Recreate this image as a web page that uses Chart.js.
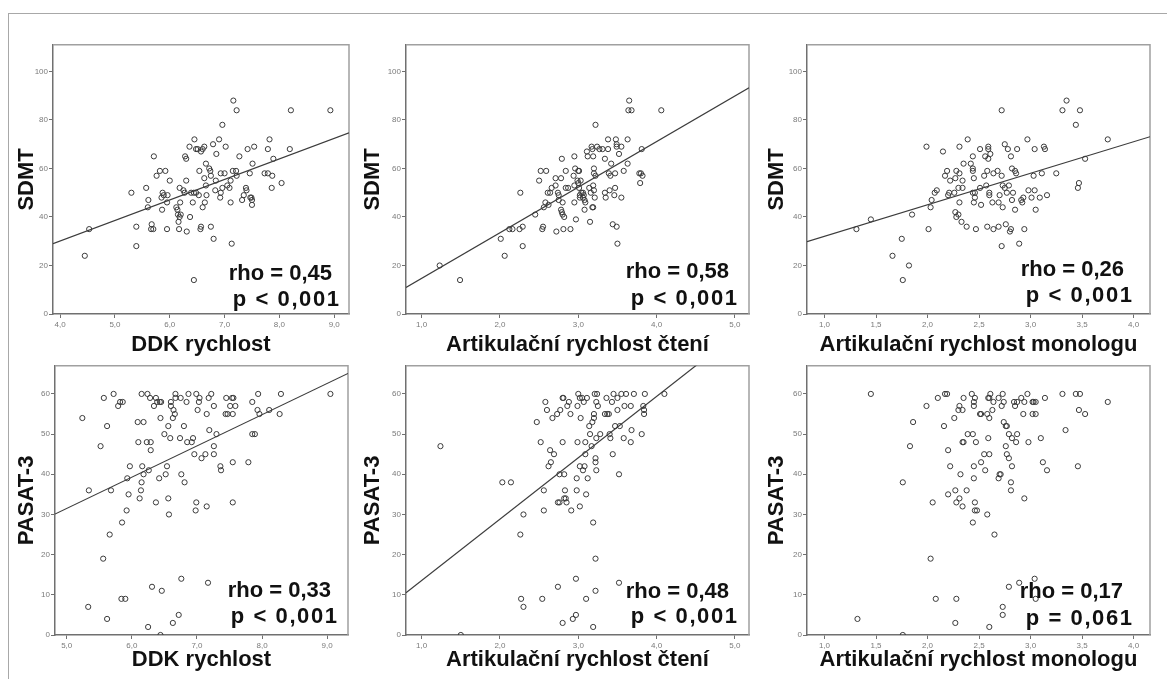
<!DOCTYPE html>
<html>
<head>
<meta charset="utf-8">
<script src="https://cdn.jsdelivr.net/npm/chart.js@4.4.0/dist/chart.umd.min.js"></script>
<style>
html, body { margin: 0; padding: 0; background: #fff; width: 1167px; height: 679px; overflow: hidden; position: relative; }
.frame { position: absolute; left: 8px; top: 13px; right: 0; bottom: 0; border-top: 1px solid #a8a8a8; border-left: 1px solid #a8a8a8; }
canvas { position: absolute; }
</style>
</head>
<body>
<div class="frame"></div>
<canvas id="c1"></canvas>
<canvas id="c2"></canvas>
<canvas id="c3"></canvas>
<canvas id="c4"></canvas>
<canvas id="c5"></canvas>
<canvas id="c6"></canvas>
<script>
// values: [x, y] per subject
const ddkSdmt = [[4.45,24],[4.53,35],[5.30,50],[5.57,52],[5.39,36],[5.39,28],[5.61,47],[5.60,44],[5.71,65],[5.76,57],[5.82,59],[5.92,59],[6.00,55],[5.67,37],[5.66,35],[5.70,35],[5.87,50],[5.89,49],[5.85,48],[5.96,49],[5.95,46],[5.86,43],[5.95,35],[6.12,44],[6.14,43],[6.15,41],[6.16,38],[6.18,40],[6.20,41],[6.17,35],[6.18,52],[6.19,46],[6.25,51],[6.27,50],[6.28,65],[6.30,64],[6.30,55],[6.31,34],[6.37,40],[6.36,69],[6.45,72],[6.48,68],[6.51,68],[6.42,46],[6.44,50],[6.44,14],[6.39,50],[6.48,50],[6.53,49],[6.54,59],[6.56,35],[6.57,36],[6.57,67],[6.60,68],[6.63,69],[6.60,44],[6.63,56],[6.64,46],[6.66,62],[6.66,53],[6.67,49],[6.72,60],[6.74,59],[6.75,57],[6.75,36],[6.79,70],[6.80,31],[6.83,51],[6.84,55],[6.85,66],[6.90,72],[6.96,78],[6.93,58],[6.92,48],[6.93,50],[6.96,52],[7.02,69],[7.00,58],[7.05,53],[7.09,52],[7.11,55],[7.11,46],[7.13,29],[7.15,59],[7.16,88],[7.21,59],[7.22,84],[7.22,57],[7.27,65],[7.32,47],[7.35,49],[7.39,52],[7.40,51],[7.42,68],[7.46,58],[7.47,48],[7.49,48],[7.50,47],[7.50,45],[7.51,62],[7.54,69],[7.73,58],[7.79,58],[7.79,68],[7.82,72],[7.86,52],[7.87,57],[7.89,64],[8.04,54],[8.19,68],[8.21,84],[8.93,84]];
const readSdmt = [[1.23,20],[1.49,14],[2.01,31],[2.06,24],[2.26,50],[2.12,35],[2.16,35],[2.25,35],[2.29,36],[2.29,28],[2.45,41],[2.50,55],[2.52,59],[2.59,59],[2.54,35],[2.55,36],[2.56,44],[2.58,46],[2.62,45],[2.61,50],[2.64,50],[2.66,52],[2.71,56],[2.71,53],[2.72,34],[2.74,50],[2.75,49],[2.75,47],[2.78,56],[2.79,64],[2.78,43],[2.79,42],[2.80,41],[2.80,46],[2.81,35],[2.82,40],[2.84,59],[2.84,52],[2.87,52],[2.90,35],[2.94,57],[2.95,65],[2.95,46],[2.95,53],[2.96,60],[2.97,39],[2.99,55],[3.00,59],[3.01,59],[3.00,54],[3.01,52],[3.02,49],[3.02,48],[3.03,55],[3.04,50],[3.06,48],[3.07,49],[3.06,50],[3.08,47],[3.08,43],[3.09,46],[3.11,67],[3.12,65],[3.14,52],[3.15,38],[3.17,69],[3.18,68],[3.16,50],[3.18,44],[3.19,65],[3.19,53],[3.20,51],[3.20,60],[3.19,44],[3.21,48],[3.20,58],[3.22,78],[3.22,57],[3.24,69],[3.27,68],[3.31,68],[3.34,50],[3.34,64],[3.35,48],[3.38,72],[3.38,68],[3.39,58],[3.40,51],[3.42,62],[3.41,57],[3.44,37],[3.46,49],[3.47,58],[3.47,52],[3.48,72],[3.49,70],[3.49,69],[3.49,36],[3.50,29],[3.52,66],[3.55,69],[3.55,48],[3.58,59],[3.63,72],[3.63,62],[3.64,84],[3.68,84],[3.65,88],[3.78,58],[3.80,58],[3.79,54],[3.82,57],[3.81,68],[4.06,84]];
const monoSdmt = [[1.31,35],[1.45,39],[1.66,24],[1.75,31],[1.76,14],[1.82,20],[1.85,41],[1.99,69],[2.01,35],[2.03,44],[2.04,47],[2.07,50],[2.09,51],[2.15,67],[2.17,57],[2.19,59],[2.20,49],[2.21,50],[2.22,55],[2.26,50],[2.27,56],[2.28,59],[2.27,42],[2.28,40],[2.30,41],[2.30,52],[2.31,58],[2.31,69],[2.31,46],[2.33,38],[2.34,55],[2.34,52],[2.35,62],[2.38,36],[2.39,72],[2.42,62],[2.44,65],[2.44,60],[2.44,59],[2.44,50],[2.45,46],[2.45,56],[2.46,50],[2.46,48],[2.47,35],[2.51,52],[2.51,68],[2.52,45],[2.55,57],[2.56,65],[2.57,53],[2.58,59],[2.58,36],[2.59,68],[2.59,69],[2.59,64],[2.60,50],[2.60,49],[2.61,66],[2.63,46],[2.64,58],[2.64,35],[2.68,59],[2.69,46],[2.69,36],[2.70,49],[2.72,84],[2.72,57],[2.72,28],[2.73,53],[2.73,44],[2.75,70],[2.75,52],[2.76,37],[2.77,50],[2.78,68],[2.79,53],[2.80,34],[2.81,65],[2.81,35],[2.82,60],[2.82,47],[2.83,50],[2.85,59],[2.85,43],[2.86,58],[2.87,68],[2.89,29],[2.91,47],[2.92,46],[2.93,48],[2.94,35],[2.97,72],[2.98,51],[3.01,48],[3.03,57],[3.04,68],[3.04,51],[3.05,43],[3.09,48],[3.11,58],[3.13,69],[3.14,68],[3.16,49],[3.25,58],[3.31,84],[3.35,88],[3.44,78],[3.46,52],[3.47,54],[3.48,84],[3.53,64],[3.75,72]];
const ddkPasat = [[5.24,54],[5.34,36],[5.33,7],[5.52,47],[5.56,19],[5.57,59],[5.62,52],[5.62,4],[5.66,25],[5.68,36],[5.72,60],[5.79,57],[5.82,58],[5.86,58],[5.85,28],[5.84,9],[5.90,9],[5.92,31],[5.93,39],[5.95,35],[5.97,42],[6.09,53],[6.10,48],[6.12,34],[6.14,36],[6.15,38],[6.16,42],[6.18,53],[6.15,60],[6.18,40],[6.24,60],[6.25,2],[6.23,48],[6.26,41],[6.28,59],[6.29,48],[6.29,46],[6.31,12],[6.34,57],[6.37,59],[6.37,33],[6.39,58],[6.42,39],[6.43,58],[6.45,58],[6.44,54],[6.44,0],[6.46,11],[6.50,50],[6.52,40],[6.54,42],[6.56,34],[6.56,52],[6.57,30],[6.59,49],[6.60,58],[6.60,57],[6.63,54],[6.63,3],[6.64,56],[6.66,55],[6.67,60],[6.67,59],[6.72,5],[6.75,59],[6.74,49],[6.76,14],[6.76,40],[6.80,52],[6.81,38],[6.84,58],[6.85,48],[6.87,60],[6.92,48],[6.94,49],[6.96,45],[6.98,31],[6.99,60],[6.99,33],[7.01,56],[7.03,58],[7.04,59],[7.07,44],[7.13,45],[7.15,32],[7.15,55],[7.17,13],[7.18,59],[7.19,51],[7.22,60],[7.26,47],[7.26,45],[7.26,57],[7.30,50],[7.36,42],[7.37,41],[7.45,59],[7.44,55],[7.47,55],[7.51,57],[7.54,59],[7.55,55],[7.56,59],[7.55,43],[7.55,33],[7.59,57],[7.79,43],[7.85,58],[7.85,50],[7.89,50],[7.94,60],[7.93,56],[7.96,55],[8.11,56],[8.27,55],[8.29,60],[9.05,60]];
const readPasat = [[1.24,47],[1.50,0],[2.03,38],[2.14,38],[2.26,25],[2.30,30],[2.27,9],[2.30,7],[2.47,53],[2.52,48],[2.54,9],[2.56,36],[2.56,31],[2.58,58],[2.60,56],[2.62,42],[2.64,46],[2.65,43],[2.67,54],[2.69,45],[2.73,55],[2.74,12],[2.74,33],[2.76,33],[2.77,56],[2.76,40],[2.80,59],[2.81,59],[2.80,48],[2.82,40],[2.80,3],[2.82,34],[2.84,34],[2.83,36],[2.85,33],[2.88,58],[2.86,57],[2.90,55],[2.91,31],[2.93,4],[2.97,5],[2.97,14],[2.98,39],[2.98,36],[2.99,57],[2.99,48],[3.00,60],[3.02,59],[3.03,54],[3.02,42],[3.02,32],[3.05,59],[3.06,41],[3.07,58],[3.08,42],[3.09,45],[3.09,48],[3.11,59],[3.10,35],[3.10,9],[3.12,39],[3.14,52],[3.15,50],[3.17,47],[3.18,53],[3.19,28],[3.19,2],[3.20,55],[3.20,54],[3.21,60],[3.23,58],[3.22,44],[3.22,43],[3.23,41],[3.22,11],[3.22,19],[3.23,49],[3.24,60],[3.25,57],[3.28,50],[3.34,55],[3.36,59],[3.37,55],[3.39,55],[3.40,50],[3.41,49],[3.43,58],[3.44,45],[3.45,60],[3.47,52],[3.50,56],[3.50,59],[3.52,40],[3.53,52],[3.52,13],[3.55,60],[3.58,49],[3.59,57],[3.61,60],[3.67,48],[3.68,51],[3.67,57],[3.71,60],[3.81,50],[3.83,57],[3.84,56],[3.84,55],[3.85,60],[4.10,60]];
const monoPasat = [[1.32,4],[1.45,60],[1.76,38],[1.76,0],[1.83,47],[1.86,53],[1.99,57],[2.03,19],[2.05,33],[2.08,9],[2.10,59],[2.16,52],[2.17,60],[2.19,60],[2.20,46],[2.20,35],[2.22,42],[2.26,54],[2.27,36],[2.28,33],[2.28,9],[2.27,3],[2.30,56],[2.31,57],[2.32,40],[2.31,34],[2.34,56],[2.34,32],[2.34,48],[2.35,48],[2.35,59],[2.38,36],[2.39,50],[2.43,60],[2.44,50],[2.44,28],[2.45,42],[2.45,39],[2.45,57],[2.45,58],[2.46,59],[2.46,33],[2.46,31],[2.47,48],[2.48,31],[2.51,55],[2.52,55],[2.52,43],[2.55,45],[2.56,41],[2.58,55],[2.59,49],[2.58,30],[2.59,59],[2.60,54],[2.60,45],[2.60,2],[2.60,59],[2.61,60],[2.63,56],[2.64,58],[2.65,25],[2.69,59],[2.69,39],[2.70,40],[2.71,40],[2.72,57],[2.73,60],[2.73,7],[2.73,5],[2.74,53],[2.74,58],[2.76,52],[2.76,47],[2.77,52],[2.77,45],[2.79,44],[2.79,12],[2.79,50],[2.81,38],[2.81,36],[2.82,49],[2.82,42],[2.84,58],[2.85,57],[2.86,48],[2.87,58],[2.87,50],[2.89,13],[2.91,59],[2.93,55],[2.94,58],[2.94,34],[2.97,60],[2.98,48],[3.02,58],[3.02,55],[3.03,58],[3.04,14],[3.05,55],[3.05,9],[3.05,58],[3.10,49],[3.12,43],[3.14,59],[3.16,41],[3.31,60],[3.34,51],[3.44,60],[3.47,56],[3.46,42],[3.48,60],[3.53,55],[3.75,58]];

// regression lines, endpoints at the axis limits (none drawn for the last panel)
const fitDdkSdmt = [[3.87,29.0],[9.27,74.7]];
const fitReadSdmt = [[0.80,10.9],[5.18,93.3]];
const fitMonoSdmt = [[0.83,29.8],[4.16,73.1]];
const fitDdkPasat = [[4.82,30.1],[9.32,65.1]];
const fitReadPasat = [[0.80,10.5],[5.18,77.4]];

// axis ticks
const ticksDdk = [4, 5, 6, 7, 8, 9];
const ticksDdk2 = [5, 6, 7, 8, 9];
const ticksRead = [1, 2, 3, 4, 5];
const ticksMono = [1, 1.5, 2, 2.5, 3, 3.5, 4];
const ticksSdmt = [0, 20, 40, 60, 80, 100];
const ticksPasat = [0, 10, 20, 30, 40, 50, 60];

const xTitles = ['DDK rychlost', 'Artikulační rychlost čtení', 'Artikulační rychlost monologu'];
const yTitles = ['SDMT', 'PASAT-3'];
const rhoLabels = ['rho = 0,45', 'rho = 0,58', 'rho = 0,26', 'rho = 0,33', 'rho = 0,48', 'rho = 0,17'];
const pLabels = ['p < 0,001', 'p < 0,001', 'p < 0,001', 'p < 0,001', 'p < 0,001', 'p = 0,061'];

const FONT = '"Liberation Sans", Arial, Helvetica, sans-serif';
const Y_W = 48, PAD_T = 4, PAD_R = 4;

// box = plot area [left, top, right, bottom] on the page; note = [rhoRight, rhoBase, pRight, pBase] offsets
const panels = [
    { id: 'c1', pts: ddkSdmt, fit: fitDdkSdmt, x: [3.87, 9.27], xt: ticksDdk, y: [0, 111], yt: ticksSdmt, xTitle: xTitles[0], yTitle: yTitles[0], box: [53, 43, 350, 314], xh: 44, yPad: 8.8, note: [17, 34, 10, 8] },
    { id: 'c2', pts: readSdmt, fit: fitReadSdmt, x: [0.80, 5.18], xt: ticksRead, y: [0, 111], yt: ticksSdmt, xTitle: xTitles[1], yTitle: yTitles[0], box: [406, 43, 750, 314], xh: 44, yPad: 1.8, note: [20, 36, 12, 9] },
    { id: 'c3', pts: monoSdmt, fit: fitMonoSdmt, x: [0.83, 4.16], xt: ticksMono, y: [0, 111], yt: ticksSdmt, xTitle: xTitles[2], yTitle: yTitles[0], box: [807, 43, 1151, 314], xh: 44, yPad: 4.8, note: [26, 38, 18, 12] },
    { id: 'c4', pts: ddkPasat, fit: fitDdkPasat, x: [4.82, 9.32], xt: ticksDdk2, y: [0, 67], yt: ticksPasat, xTitle: xTitles[0], yTitle: yTitles[1], box: [55, 364, 349, 635], xh: 38, yPad: 6.8, note: [17, 38, 11, 12] },
    { id: 'c5', pts: readPasat, fit: fitReadPasat, x: [0.80, 5.18], xt: ticksRead, y: [0, 67], yt: ticksPasat, xTitle: xTitles[1], yTitle: yTitles[1], box: [406, 364, 750, 635], xh: 38, yPad: 1.8, note: [20, 37, 12, 12] },
    { id: 'c6', pts: monoPasat, fit: null, x: [0.83, 4.16], xt: ticksMono, y: [0, 67], yt: ticksPasat, xTitle: xTitles[2], yTitle: yTitles[1], box: [807, 364, 1151, 635], xh: 38, yPad: 4.8, note: [27, 37, 18, 10] }
];

const boxPlugin = {
    id: 'plotBox',
    beforeDatasetsDraw(chart) {
        const { ctx, chartArea: a } = chart;
        ctx.save();
        ctx.strokeStyle = '#a0a0a0';
        ctx.lineWidth = 1.5;
        ctx.beginPath();
        ctx.moveTo(a.left, a.top);
        ctx.lineTo(a.right, a.top);
        ctx.lineTo(a.right, a.bottom);
        ctx.stroke();
        ctx.restore();
    },
    afterDraw(chart, args, opts) {
        const { ctx, chartArea: a } = chart;
        ctx.save();
        ctx.fillStyle = '#111';
        ctx.font = 'bold 22px ' + FONT;
        ctx.textAlign = 'right';
        ctx.textBaseline = 'alphabetic';
        ctx.fillText(opts.rho, a.right - opts.note[0], a.bottom - opts.note[1]);
        // the p line is set a little looser in the original slide
        ctx.letterSpacing = '1.6px';
        ctx.fillText(opts.p, a.right - opts.note[2] + 1.6, a.bottom - opts.note[3]);
        ctx.restore();
    }
};

const commaFmt = v => Number(v).toFixed(1).replace('.', ',');

panels.forEach((p, i) => {
    const [L, T, R, B] = p.box;
    const cv = document.getElementById(p.id);
    const w = Y_W + (R - L) + PAD_R;
    const h = PAD_T + (B - T) + p.xh;
    cv.width = w;
    cv.height = h;
    cv.style.left = (L - Y_W) + 'px';
    cv.style.top = (T - PAD_T) + 'px';
    cv.style.width = w + 'px';
    cv.style.height = h + 'px';

    const datasets = [{
        data: p.pts.map(d => ({ x: d[0], y: d[1] })),
        pointRadius: 2.6,
        pointBorderWidth: 1,
        pointBorderColor: '#3a3a3a',
        pointBackgroundColor: 'rgba(0,0,0,0)',
        showLine: false
    }];
    if (p.fit) {
        datasets.push({
            data: p.fit.map(d => ({ x: d[0], y: d[1] })),
            showLine: true,
            borderColor: '#3c3c3c',
            borderWidth: 1.2,
            pointRadius: 0
        });
    }

    new Chart(cv, {
        type: 'scatter',
        data: { datasets },
        plugins: [boxPlugin],
        options: {
            responsive: false,
            animation: false,
            events: [],
            layout: { padding: { top: PAD_T, right: PAD_R, left: 0, bottom: 0 } },
            plugins: {
                legend: { display: false },
                tooltip: { enabled: false },
                plotBox: { rho: rhoLabels[i], p: pLabels[i], note: p.note }
            },
            scales: {
                x: {
                    type: 'linear',
                    min: p.x[0],
                    max: p.x[1],
                    afterBuildTicks: s => { s.ticks = p.xt.map(v => ({ value: v })); },
                    afterFit: s => { s.height = p.xh; },
                    border: { color: '#707070', width: 1.5 },
                    grid: { drawOnChartArea: false, drawTicks: true, tickLength: 4, tickColor: '#707070' },
                    ticks: { color: '#7a7a7a', font: { size: 8, family: FONT }, padding: 2, maxRotation: 0, autoSkip: false, callback: commaFmt },
                    title: { display: true, text: p.xTitle, color: '#111', font: { size: 22, weight: 'bold', family: FONT }, padding: { top: 0, bottom: 0 } }
                },
                y: {
                    type: 'linear',
                    min: p.y[0],
                    max: p.y[1],
                    afterBuildTicks: s => { s.ticks = p.yt.map(v => ({ value: v })); },
                    afterFit: s => { s.width = Y_W; },
                    border: { color: '#707070', width: 1.5 },
                    grid: { drawOnChartArea: false, drawTicks: true, tickLength: 4, tickColor: '#707070' },
                    ticks: { color: '#7a7a7a', font: { size: 8, family: FONT }, padding: 1, autoSkip: false, callback: v => String(v) },
                    title: { display: true, text: p.yTitle, color: '#111', font: { size: 22, weight: 'bold', family: FONT }, padding: { top: p.yPad, bottom: 0 } }
                }
            }
        }
    });
});
</script>
</body>
</html>
